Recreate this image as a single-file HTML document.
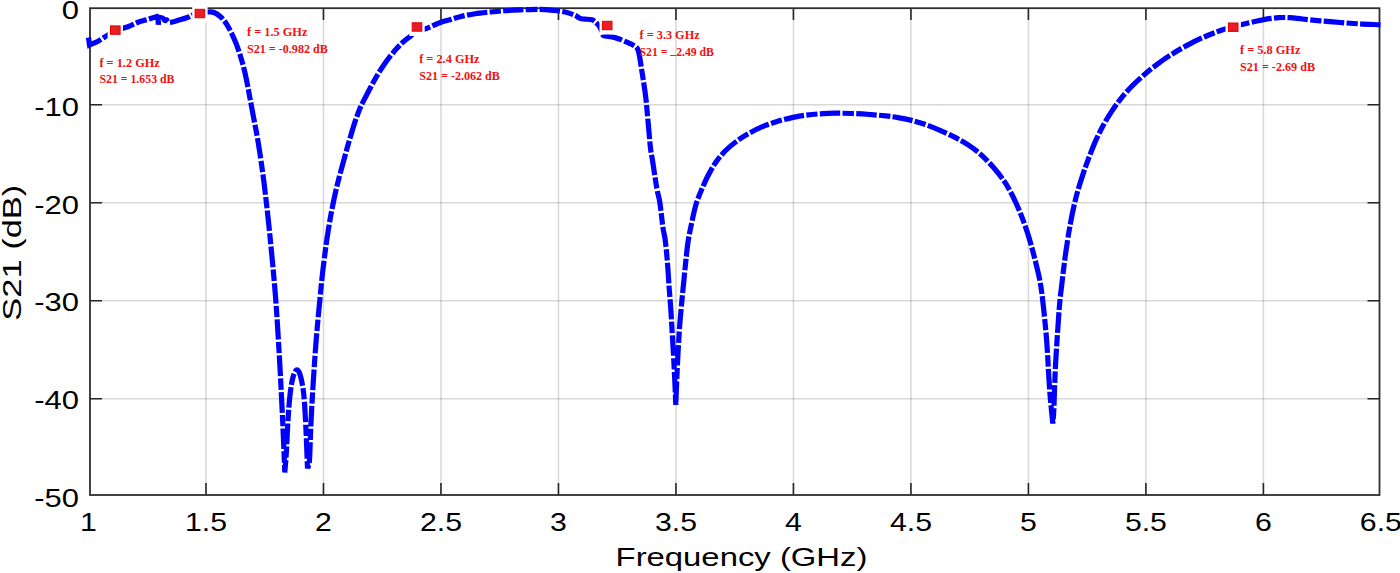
<!DOCTYPE html><html><head><meta charset="utf-8"><title>S21</title><style>html,body{margin:0;padding:0;background:#fff;width:1400px;height:573px;overflow:hidden}svg{display:block}.ax{font-family:"Liberation Sans",sans-serif;fill:#000}.an{font-family:"Liberation Serif",serif;font-weight:bold;fill:#f21010;font-size:13.4px}</style></head><body>
<svg width="1400" height="573" viewBox="0 0 1400 573">
<rect width="1400" height="573" fill="#fff"/>
<path d="M205.99,9 V494 M323.48,9 V494 M440.97,9 V494 M558.46,9 V494 M675.95,9 V494 M793.44,9 V494 M910.93,9 V494 M1028.42,9 V494 M1145.91,9 V494 M1263.40,9 V494" stroke="#262626" stroke-opacity="0.18" stroke-width="1.5" fill="none"/>
<path d="M91,104.70 H1378.5 M91,202.70 H1378.5 M91,300.70 H1378.5 M91,398.70 H1378.5" stroke="#262626" stroke-opacity="0.18" stroke-width="1.5" fill="none"/>
<path d="M205.99,495 V483 M205.99,8 V20 M323.48,495 V483 M323.48,8 V20 M440.97,495 V483 M440.97,8 V20 M558.46,495 V483 M558.46,8 V20 M675.95,495 V483 M675.95,8 V20 M793.44,495 V483 M793.44,8 V20 M910.93,495 V483 M910.93,8 V20 M1028.42,495 V483 M1028.42,8 V20 M1145.91,495 V483 M1145.91,8 V20 M1263.40,495 V483 M1263.40,8 V20 M90,104.70 H102 M1379.5,104.70 H1367.5 M90,202.70 H102 M1379.5,202.70 H1367.5 M90,300.70 H102 M1379.5,300.70 H1367.5 M90,398.70 H102 M1379.5,398.70 H1367.5" stroke="#262626" stroke-width="1.6" fill="none"/>
<rect x="90" y="8.2" width="1289.5" height="486.8" fill="none" stroke="#2e2e2e" stroke-width="1.8"/>
<path d="M88.5,37.5C88.7,38.8 89.3,43.8 89.5,45.0C90.9,44.4 95.0,42.9 98.0,41.3C101.0,39.6 104.8,36.9 107.7,35.1C110.6,33.3 112.2,31.7 115.5,30.3C118.8,28.9 124.1,28.1 127.8,26.8C131.4,25.5 134.2,23.7 137.4,22.5C140.6,21.3 144.1,20.5 147.0,19.6C149.9,18.7 153.2,17.6 155.0,17.2C156.8,16.8 157.0,15.8 157.6,17.0C158.2,18.2 158.2,23.2 158.3,24.5C158.5,23.5 158.5,19.3 159.3,18.3C160.1,17.3 162.1,17.9 163.0,18.3C163.9,18.7 164.2,20.2 164.8,20.5C165.4,20.8 165.7,19.5 166.5,19.8C167.3,20.1 167.2,22.4 169.5,22.4C171.8,22.4 176.9,20.6 180.0,19.8C183.1,19.0 185.8,18.1 188.0,17.3C190.2,16.5 191.0,15.8 193.0,15.0C195.0,14.2 197.5,13.0 200.0,12.5C202.5,12.0 205.7,12.0 208.0,12.0C210.3,12.0 211.9,11.7 214.0,12.5C216.1,13.3 218.5,14.9 220.5,16.7C222.6,18.6 224.4,20.8 226.2,23.5C228.0,26.2 229.7,29.4 231.4,32.8C233.1,36.3 234.8,40.2 236.4,44.2C237.9,48.2 239.4,52.6 240.7,56.9C242.0,61.1 243.2,65.4 244.2,69.7C245.3,73.9 246.1,78.0 247.0,82.5C248.0,87.0 248.7,91.3 249.7,96.9C250.8,102.4 251.8,107.9 253.3,115.9C254.8,123.9 256.8,133.5 258.6,144.9C260.4,156.3 262.3,169.1 264.2,184.2C266.0,199.3 268.1,217.3 269.9,235.4C271.7,253.5 273.7,274.2 275.2,292.8C276.7,311.4 277.7,327.8 278.8,346.9C280.0,365.9 281.2,391.5 282.0,407.0C282.8,422.5 283.0,429.1 283.5,440.0C284.0,450.9 284.6,467.1 284.8,472.5C285.1,468.8 286.0,458.8 286.5,450.0C287.0,441.2 287.4,429.2 288.0,420.0C288.6,410.8 289.2,402.0 290.0,395.0C290.8,388.0 291.7,382.2 292.8,378.0C293.9,373.8 295.4,370.5 296.6,370.0C297.8,369.5 299.1,371.3 300.2,375.0C301.3,378.7 302.6,384.5 303.5,392.0C304.4,399.5 304.8,407.2 305.5,420.0C306.2,432.8 307.2,460.4 307.5,468.5C307.8,467.1 309.0,466.5 309.5,460.0C310.0,453.5 310.2,440.5 310.7,429.4C311.2,418.2 311.7,407.4 312.6,393.1C313.4,378.8 314.7,359.8 315.9,343.7C317.2,327.5 318.8,309.9 320.2,296.2C321.5,282.4 322.6,272.1 324.0,261.1C325.3,250.1 326.8,239.6 328.3,230.2C329.8,220.8 331.2,212.7 332.9,204.6C334.5,196.4 336.3,188.7 338.2,181.1C340.1,173.5 342.3,165.6 344.2,158.8C346.1,152.0 347.6,146.1 349.4,140.2C351.1,134.4 352.8,128.7 354.4,123.6C356.1,118.5 357.9,113.7 359.4,109.8C361.0,106.0 362.4,103.2 363.8,100.4C365.2,97.5 366.6,95.0 367.9,92.5C369.2,90.0 370.4,87.7 371.7,85.3C373.0,83.0 374.2,80.7 375.5,78.3C376.9,76.0 378.1,73.7 379.6,71.3C381.1,68.9 382.7,66.5 384.5,63.9C386.4,61.2 388.7,58.2 390.7,55.7C392.7,53.2 394.5,50.9 396.4,48.8C398.2,46.8 399.9,45.0 401.6,43.4C403.3,41.7 405.0,40.3 406.4,39.2C407.9,38.0 408.5,37.8 410.3,36.4C412.1,35.0 414.5,31.8 417.0,30.5C419.5,29.2 421.4,30.2 425.4,28.8C429.4,27.4 436.9,23.7 441.0,22.2C445.1,20.7 446.8,20.6 450.0,19.7C453.2,18.8 455.8,17.7 460.0,16.7C464.2,15.7 470.0,14.5 475.0,13.7C480.0,12.9 485.0,12.5 490.0,12.0C495.0,11.5 500.0,11.0 505.0,10.7C510.0,10.3 514.2,10.1 520.0,9.9C525.8,9.7 534.3,9.3 540.0,9.4C545.7,9.5 549.8,10.1 554.0,10.5C558.2,10.9 561.5,11.2 565.0,12.0C568.5,12.8 572.5,14.2 575.0,15.3C577.5,16.4 578.3,17.8 580.0,18.4C581.7,19.0 583.0,18.9 585.0,19.1C587.0,19.3 590.2,19.2 592.0,19.8C593.8,20.4 594.8,21.5 596.0,22.6C597.2,23.7 598.6,25.2 599.5,26.5C600.4,27.8 600.8,29.0 601.5,30.5C602.2,32.0 601.8,34.4 603.5,35.5C605.2,36.6 609.2,36.3 612.0,36.9C614.8,37.5 617.3,38.3 620.0,39.3C622.7,40.3 625.7,41.7 628.0,42.7C630.3,43.8 632.4,44.6 634.0,45.6C635.6,46.6 636.6,47.2 637.5,48.8C638.4,50.4 638.7,52.2 639.3,55.0C639.9,57.8 640.4,61.7 641.0,65.6C641.6,69.5 642.3,73.7 643.0,78.2C643.7,82.8 644.6,88.7 645.2,92.9C645.8,97.1 645.9,98.2 646.4,103.4C646.9,108.6 647.6,117.0 648.3,124.3C649.0,131.6 649.7,141.3 650.4,147.4C651.1,153.5 651.5,154.2 652.6,161.0C653.7,167.8 655.6,181.2 656.8,188.2C658.0,195.2 658.9,196.2 659.9,202.8C660.9,209.4 662.1,221.8 663.0,228.0C663.9,234.2 664.5,234.1 665.2,240.0C666.0,245.9 666.9,255.7 667.5,263.5C668.1,271.4 668.6,279.8 669.1,287.1C669.6,294.4 670.2,300.7 670.7,307.5C671.2,314.3 671.5,320.5 671.9,327.8C672.3,335.1 672.8,342.2 673.3,351.4C673.8,360.6 674.5,373.9 674.9,382.8C675.3,391.7 675.6,401.3 675.8,405.0C675.9,401.8 676.2,392.3 676.5,386.0C676.8,379.7 677.0,372.9 677.3,367.1C677.6,361.3 677.7,358.6 678.1,351.4C678.5,344.2 679.2,332.1 679.8,324.0C680.4,315.9 681.0,310.2 681.7,302.7C682.4,295.2 683.2,287.0 684.0,279.2C684.8,271.4 685.6,262.4 686.4,255.7C687.1,249.0 687.5,245.0 688.5,239.0C689.5,233.0 691.1,225.6 692.4,219.6C693.7,213.6 694.7,208.3 696.5,202.8C698.3,197.3 700.7,191.7 702.9,186.6C705.1,181.5 707.4,176.5 709.9,172.1C712.3,167.7 714.9,163.6 717.4,160.1C720.0,156.6 722.1,154.1 725.1,151.0C728.1,148.0 731.7,144.9 735.7,142.0C739.7,139.0 744.4,136.0 748.9,133.4C753.5,130.8 758.3,128.4 763.1,126.4C767.9,124.4 773.0,122.8 777.8,121.3C782.6,119.8 787.3,118.6 792.0,117.6C796.7,116.6 801.3,115.8 806.0,115.1C810.7,114.5 815.4,114.1 820.3,113.8C825.2,113.5 830.2,113.3 835.6,113.2C840.9,113.2 846.6,113.3 852.3,113.5C858.0,113.7 864.2,114.1 869.8,114.5C875.4,114.9 881.1,115.4 885.8,115.9C890.5,116.4 893.7,116.9 897.9,117.6C902.0,118.3 906.0,119.0 910.5,120.1C915.0,121.2 919.9,122.6 924.8,124.3C929.8,126.0 934.9,128.1 940.0,130.3C945.0,132.5 950.4,135.0 955.1,137.4C959.9,139.9 964.8,142.7 968.5,145.1C972.3,147.5 974.8,149.4 977.7,151.8C980.6,154.2 983.2,156.6 985.9,159.3C988.7,162.1 991.5,165.2 994.2,168.3C996.8,171.4 999.5,174.7 1001.9,178.0C1004.3,181.3 1006.3,184.2 1008.4,188.0C1010.6,191.8 1012.8,196.1 1015.0,200.8C1017.2,205.5 1019.5,210.8 1021.5,216.0C1023.5,221.1 1025.4,226.5 1027.2,231.9C1028.9,237.2 1030.5,242.7 1032.0,248.2C1033.5,253.7 1035.0,259.6 1036.3,264.8C1037.5,270.0 1038.7,274.6 1039.6,279.3C1040.5,284.1 1041.2,288.0 1041.9,293.5C1042.6,298.9 1043.3,305.7 1044.0,312.1C1044.7,318.4 1045.3,325.3 1045.9,331.7C1046.5,338.0 1046.9,343.5 1047.3,350.2C1047.8,356.8 1048.1,364.4 1048.5,371.5C1048.9,378.7 1049.4,386.5 1049.9,393.0C1050.4,399.5 1051.0,405.5 1051.5,410.6C1052.0,415.7 1052.6,421.4 1052.8,423.5C1053.0,421.4 1053.5,416.7 1053.8,410.6C1054.1,404.5 1054.3,394.9 1054.6,387.1C1054.9,379.3 1055.2,371.2 1055.6,363.7C1056.0,356.3 1056.5,348.8 1056.9,342.3C1057.3,335.8 1057.7,330.4 1058.1,324.7C1058.5,318.9 1058.9,312.5 1059.3,307.7C1059.7,302.9 1060.0,299.6 1060.4,295.7C1060.9,291.9 1061.2,289.5 1061.8,284.5C1062.4,279.6 1063.1,272.8 1064.0,266.0C1064.8,259.2 1066.0,250.8 1067.1,243.7C1068.1,236.5 1069.3,229.5 1070.5,223.0C1071.7,216.5 1072.9,210.5 1074.2,204.8C1075.5,199.2 1076.8,194.1 1078.3,189.1C1079.7,184.1 1081.0,180.0 1082.8,174.8C1084.5,169.6 1086.6,163.8 1088.7,158.1C1090.9,152.4 1093.3,146.1 1095.7,140.6C1098.2,135.2 1100.6,130.2 1103.3,125.3C1106.0,120.4 1108.7,115.9 1111.7,111.4C1114.7,106.9 1117.8,102.4 1121.1,98.3C1124.4,94.1 1127.9,90.3 1131.6,86.5C1135.3,82.7 1139.2,79.2 1143.4,75.5C1147.7,71.8 1152.3,67.9 1157.1,64.3C1162.0,60.7 1167.5,56.9 1172.7,53.7C1177.9,50.4 1183.2,47.4 1188.5,44.6C1193.7,41.8 1199.0,39.2 1204.1,37.0C1209.3,34.7 1214.4,32.7 1219.2,31.0C1224.0,29.3 1229.0,27.9 1233.0,26.8C1237.0,25.7 1239.2,25.1 1243.0,24.2C1246.8,23.3 1252.1,22.1 1255.9,21.3C1259.8,20.4 1262.4,19.7 1266.2,19.1C1270.0,18.5 1274.7,17.9 1278.7,17.6C1282.7,17.4 1286.1,17.5 1290.1,17.7C1294.1,18.0 1297.5,18.5 1302.5,19.0C1307.6,19.6 1314.0,20.2 1320.2,20.8C1326.5,21.4 1333.4,22.0 1340.0,22.5C1346.7,23.0 1353.4,23.5 1360.1,23.9C1366.9,24.3 1377.1,24.6 1380.5,24.8" fill="none" stroke="#0000ff" stroke-width="5.2" stroke-linejoin="miter" stroke-miterlimit="3" stroke-dasharray="20.5 2.3 11.3 2.3"/>
<rect x="107.6" y="21.1" width="15.4" height="18" fill="#fff"/>
<rect x="192.2" y="4.5" width="15.4" height="18" fill="#fff"/>
<rect x="409.3" y="18.0" width="15.4" height="18" fill="#fff"/>
<rect x="599.5" y="16.5" width="15.4" height="18" fill="#fff"/>
<rect x="1225.5" y="18.2" width="15.4" height="18" fill="#fff"/>
<rect x="110.5" y="25.9" width="9.6" height="8.4" fill="#ea1c24" stroke="#e40000" stroke-width="1"/>
<rect x="195.1" y="9.3" width="9.6" height="8.4" fill="#ea1c24" stroke="#e40000" stroke-width="1"/>
<rect x="412.2" y="22.8" width="9.6" height="8.4" fill="#ea1c24" stroke="#e40000" stroke-width="1"/>
<rect x="602.4" y="21.3" width="9.6" height="8.4" fill="#ea1c24" stroke="#e40000" stroke-width="1"/>
<rect x="1228.4" y="23.0" width="9.6" height="8.4" fill="#ea1c24" stroke="#e40000" stroke-width="1"/>
<text class="an" x="99.4" y="66.6" textLength="60.4" lengthAdjust="spacingAndGlyphs">f = 1.2 GHz</text>
<text class="an" x="99.4" y="82.6" textLength="75.1" lengthAdjust="spacingAndGlyphs">S21 = 1.653 dB</text>
<text class="an" x="247.0" y="36.0" textLength="60.4" lengthAdjust="spacingAndGlyphs">f = 1.5 GHz</text>
<text class="an" x="247.0" y="52.7" textLength="80.8" lengthAdjust="spacingAndGlyphs">S21 = -0.982 dB</text>
<text class="an" x="419.2" y="63.1" textLength="60.3" lengthAdjust="spacingAndGlyphs">f = 2.4 GHz</text>
<text class="an" x="419.2" y="79.8" textLength="80.7" lengthAdjust="spacingAndGlyphs">S21 = -2.062 dB</text>
<text class="an" x="639.6" y="38.7" textLength="60.0" lengthAdjust="spacingAndGlyphs">f = 3.3 GHz</text>
<text class="an" x="639.6" y="55.5" textLength="74.3" lengthAdjust="spacingAndGlyphs">S21 = <tspan dy="-1.6">_</tspan><tspan dy="1.6">2.49 dB</tspan></text>
<text class="an" x="1240.0" y="54.1" textLength="60.4" lengthAdjust="spacingAndGlyphs">f = 5.8 GHz</text>
<text class="an" x="1240.0" y="70.5" textLength="75.0" lengthAdjust="spacingAndGlyphs">S21 = -2.69 dB</text>
<text class="ax" transform="translate(79.0,18.5) scale(1.24,1)" font-size="25" text-anchor="end">0</text>
<text class="ax" transform="translate(79.0,116.1) scale(1.24,1)" font-size="25" text-anchor="end">-10</text>
<text class="ax" transform="translate(79.0,213.7) scale(1.24,1)" font-size="25" text-anchor="end">-20</text>
<text class="ax" transform="translate(79.0,311.3) scale(1.24,1)" font-size="25" text-anchor="end">-30</text>
<text class="ax" transform="translate(79.0,408.9) scale(1.24,1)" font-size="25" text-anchor="end">-40</text>
<text class="ax" transform="translate(79.0,506.5) scale(1.24,1)" font-size="25" text-anchor="end">-50</text>
<text class="ax" transform="translate(88.50,530.6) scale(1.21,1)" font-size="25" text-anchor="middle">1</text>
<text class="ax" transform="translate(205.99,530.6) scale(1.21,1)" font-size="25" text-anchor="middle">1.5</text>
<text class="ax" transform="translate(323.48,530.6) scale(1.21,1)" font-size="25" text-anchor="middle">2</text>
<text class="ax" transform="translate(440.97,530.6) scale(1.21,1)" font-size="25" text-anchor="middle">2.5</text>
<text class="ax" transform="translate(558.46,530.6) scale(1.21,1)" font-size="25" text-anchor="middle">3</text>
<text class="ax" transform="translate(675.95,530.6) scale(1.21,1)" font-size="25" text-anchor="middle">3.5</text>
<text class="ax" transform="translate(793.44,530.6) scale(1.21,1)" font-size="25" text-anchor="middle">4</text>
<text class="ax" transform="translate(910.93,530.6) scale(1.21,1)" font-size="25" text-anchor="middle">4.5</text>
<text class="ax" transform="translate(1028.42,530.6) scale(1.21,1)" font-size="25" text-anchor="middle">5</text>
<text class="ax" transform="translate(1145.91,530.6) scale(1.21,1)" font-size="25" text-anchor="middle">5.5</text>
<text class="ax" transform="translate(1263.40,530.6) scale(1.21,1)" font-size="25" text-anchor="middle">6</text>
<text class="ax" transform="translate(1380.89,530.6) scale(1.21,1)" font-size="25" text-anchor="middle">6.5</text>
<text class="ax" transform="translate(741.5,566) scale(1.314,1)" font-size="25" text-anchor="middle">Frequency (GHz)</text>
<text class="ax" transform="translate(21.3,252.75) rotate(-90) scale(1.38,1)" font-size="25" text-anchor="middle">S21 (dB)</text>
</svg></body></html>
